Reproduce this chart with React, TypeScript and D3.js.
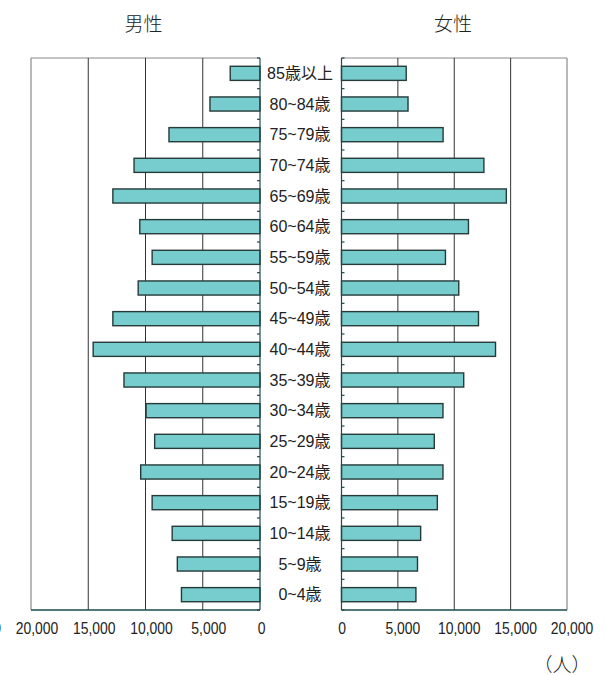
import React from 'react';
import * as d3 from 'd3';

const ageGroups = [
  '85歳以上', '80~84歳', '75~79歳', '70~74歳', '65~69歳', '60~64歳',
  '55~59歳', '50~54歳', '45~49歳', '40~44歳', '35~39歳', '30~34歳',
  '25~29歳', '20~24歳', '15~19歳', '10~14歳', '5~9歳', '0~4歳',
];
const maleValues = [
  2600, 4370, 7950, 11000, 12850, 10500, 9420, 10640, 12850, 14570,
  11880, 9950, 9200, 10420, 9420, 7670, 7220, 6860,
];
const femaleValues = [
  5740, 5900, 9010, 12630, 14620, 11260, 9220, 10400, 12150, 13660,
  10840, 9000, 8230, 9000, 8500, 7020, 6740, 6600,
];
const maleTicks = [25000, 20000, 15000, 10000, 5000, 0];
const femaleTicks = [0, 5000, 10000, 15000, 20000];
const gridValues = [5000, 10000, 15000];
const maleTitle = '男性';
const femaleTitle = '女性';
const unitLabel = '（人）';

const W = 606;
const H = 675;
const TOP = 58;
const BOTTOM = 610;

const FONT = "'Liberation Sans', 'Noto Sans CJK JP', sans-serif";
const CJK = "'Noto Sans CJK JP', sans-serif";

export default function App() {
  const y = d3.scaleBand<string>().domain(ageGroups).range([TOP, BOTTOM]).paddingInner(0.54).paddingOuter(0.27);
  const step = (BOTTOM - TOP) / ageGroups.length;
  const xL = d3.scaleLinear().domain([0, 20000]).range([260, 31]);
  const xR = d3.scaleLinear().domain([0, 20000]).range([341.5, 567]);
  const fmt = d3.format(',');
  const boundaries = d3.range(ageGroups.length + 1).map((i) => TOP + i * step);

  const barFill = '#77cdcd';
  const barStroke = '#263a3a';
  const axisTeal = '#1d4a4a';

  return (
    <svg width={W} height={H} style={{ position: 'absolute', left: 0, top: 0 }}>
      <rect x={0} y={0} width={W} height={H} fill="#fff" />
      {/* titles */}
      <text x={143.5} y={22} fontFamily={CJK} fontSize={19} fontWeight={300} textAnchor="middle" dominantBaseline="central" fill="#222">{maleTitle}</text>
      <text x={453} y={22} fontFamily={CJK} fontSize={19} fontWeight={300} textAnchor="middle" dominantBaseline="central" fill="#222">{femaleTitle}</text>

      {/* left panel frame + grid */}
      <line x1={xL(20000)} x2={xL(0)} y1={TOP} y2={TOP} stroke="#8a8a8a" strokeWidth={1.2} />
      <line x1={xL(20000)} x2={xL(20000)} y1={TOP} y2={BOTTOM} stroke="#8a8a8a" strokeWidth={1.2} />
      {gridValues.map((v) => (
        <line key={'gl' + v} x1={xL(v)} x2={xL(v)} y1={TOP} y2={BOTTOM} stroke="#333" strokeWidth={1} />
      ))}
      {/* right panel frame + grid */}
      <line x1={xR(0)} x2={xR(20000)} y1={TOP} y2={TOP} stroke="#8a8a8a" strokeWidth={1.2} />
      <line x1={xR(20000)} x2={xR(20000)} y1={TOP} y2={BOTTOM} stroke="#8a8a8a" strokeWidth={1.2} />
      {gridValues.map((v) => (
        <line key={'gr' + v} x1={xR(v)} x2={xR(v)} y1={TOP} y2={BOTTOM} stroke="#333" strokeWidth={1} />
      ))}

      {/* bars */}
      {ageGroups.map((a, i) => (
        <rect key={'m' + a} x={xL(maleValues[i])} y={y(a)!} width={xL(0) - xL(maleValues[i])} height={y.bandwidth()}
          fill={barFill} stroke={barStroke} strokeWidth={1.4} />
      ))}
      {ageGroups.map((a, i) => (
        <rect key={'f' + a} x={xR(0)} y={y(a)!} width={xR(femaleValues[i]) - xR(0)} height={y.bandwidth()}
          fill={barFill} stroke={barStroke} strokeWidth={1.4} />
      ))}

      {/* inner axes with ticks */}
      <line x1={xL(0)} x2={xL(0)} y1={TOP} y2={BOTTOM} stroke={axisTeal} strokeWidth={1.2} />
      <line x1={xR(0)} x2={xR(0)} y1={TOP} y2={BOTTOM} stroke={axisTeal} strokeWidth={1.2} />
      {boundaries.map((b, i) => (
        <g key={'t' + i}>
          <line x1={xL(0) - 3} x2={xL(0)} y1={b} y2={b} stroke={axisTeal} strokeWidth={1.2} />
          <line x1={xR(0)} x2={xR(0) + 3} y1={b} y2={b} stroke={axisTeal} strokeWidth={1.2} />
        </g>
      ))}

      {/* bottom axes */}
      <line x1={xL(20000)} x2={xL(0)} y1={BOTTOM} y2={BOTTOM} stroke={axisTeal} strokeWidth={1.5} />
      <line x1={xR(0)} x2={xR(20000)} y1={BOTTOM} y2={BOTTOM} stroke={axisTeal} strokeWidth={1.5} />

      {/* age labels */}
      {ageGroups.map((a) => (
        <text key={'l' + a} x={300} y={y(a)! + y.bandwidth() / 2} fontFamily={FONT} fontSize={16}
          textAnchor="middle" dominantBaseline="central" fill="#222">{a}</text>
      ))}

      {/* tick labels */}
      {maleTicks.map((v) => (
        <text key={'ml' + v} transform={`translate(${xL(v) + (v === 0 ? 1.5 : 6)},634) scale(0.82,1)`}
          fontFamily={FONT} fontSize={17} textAnchor="middle" fill="#222">{fmt(v)}</text>
      ))}
      {femaleTicks.map((v) => (
        <text key={'fl' + v} transform={`translate(${xR(v) + (v === 0 ? 0.5 : 5)},634) scale(0.82,1)`}
          fontFamily={FONT} fontSize={17} textAnchor="middle" fill="#222">{fmt(v)}</text>
      ))}

      <text x={562} y={663} fontFamily={CJK} fontSize={19} fontWeight={300} textAnchor="middle" dominantBaseline="central" fill="#222">{unitLabel}</text>
    </svg>
  );
}
